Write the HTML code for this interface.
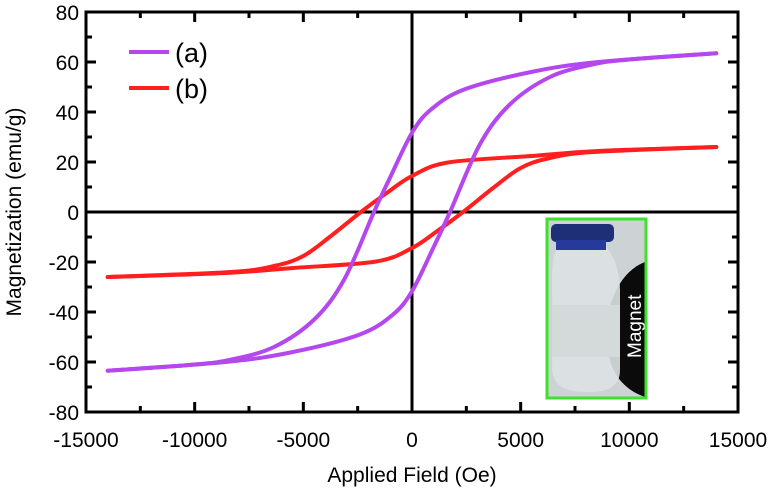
<!DOCTYPE html>
<html><head><meta charset="utf-8"><style>
html,body{margin:0;padding:0;background:#fff;}
svg{display:block;font-family:"Liberation Sans",Arial,sans-serif;}
</style></head><body>
<svg id="chart" width="776" height="493" viewBox="0 0 776 493">
<g id="plot"></g>
<text x="412" y="482" text-anchor="middle" font-size="21">Applied Field (Oe)</text>
<text transform="translate(21,212) rotate(-90)" text-anchor="middle" font-size="21">Magnetization (emu/g)</text>
</svg>
<script>
const fields = [-14000,-10000,-8300,-6350,-4500,-3120,-1750,-970,0,875,2400,5480,8570,14000];
const seriesAUpper = [-63.5,-61,-59,-54,-43,-27,0,14.5,31.7,41,49,56,60,63.5];
const fieldsB = [-14000,-8340,-6300,-5000,-3730,-2350,-1100,0,1650,5480,8570,14000];
const seriesBUpper = [-26,-24,-21.5,-17.6,-9.6,0,8,14.4,19.8,22.4,24.4,26];
const xTicks = [-15000,-10000,-5000,0,5000,10000,15000];
const yTicks = [-80,-60,-40,-20,0,20,40,60,80];

const X0=86,X1=738,Y0=412,Y1=12;
const xs=v=>X0+(v+15000)/30000*(X1-X0);
const ys=v=>Y0-(v+80)/160*(Y0-Y1);
const NS="http://www.w3.org/2000/svg";
const svg=document.getElementById('chart');
const g=document.getElementById('plot');
function mk(tag,attrs,parent){const e=document.createElementNS(NS,tag);for(const k in attrs)e.setAttribute(k,attrs[k]);(parent||g).appendChild(e);return e;}

function smoothPath(pts){
  let d=`M${pts[0][0]},${pts[0][1]}`;
  for(let i=0;i<pts.length-1;i++){
    const p0=pts[Math.max(0,i-1)],p1=pts[i],p2=pts[i+1],p3=pts[Math.min(pts.length-1,i+2)];
    const c1=[p1[0]+(p2[0]-p0[0])/6,p1[1]+(p2[1]-p0[1])/6];
    const c2=[p2[0]-(p3[0]-p1[0])/6,p2[1]-(p3[1]-p1[1])/6];
    d+=` C${c1[0]},${c1[1]} ${c2[0]},${c2[1]} ${p2[0]},${p2[1]}`;
  }
  return d;
}
function loop(F,M,color,name){
  const up=F.map((f,i)=>[xs(f),ys(M[i])]);
  const lo=F.map((f,i)=>[xs(-f),ys(-M[i])]);
  const p1=mk('path',{d:smoothPath(up),fill:'none',stroke:color,'stroke-width':4,'stroke-linecap':'round'});
  
  
  const p2=mk('path',{d:smoothPath(lo),fill:'none',stroke:color,'stroke-width':4,'stroke-linecap':'round'});
  
  
}

const zx=mk('line',{x1:X0,x2:X1,y1:ys(0),y2:ys(0),stroke:'#000','stroke-width':3});


const zy=mk('line',{x1:xs(0),x2:xs(0),y1:Y1,y2:Y0,stroke:'#000','stroke-width':3});



loop(fieldsB,seriesBUpper,'#ff1f1f','series-b');
loop(fields,seriesAUpper,'#b447ee','series-a');

const fr=mk('rect',{x:X0,y:Y1,width:X1-X0,height:Y0-Y1,fill:'none',stroke:'#000','stroke-width':3});



for(let v=-15000;v<=15000;v+=2500){
  const major=v%5000===0,L=major?10:6,x=xs(v);
  mk('line',{x1:x,x2:x,y1:Y0,y2:Y0-L,stroke:'#000','stroke-width':3});
  mk('line',{x1:x,x2:x,y1:Y1,y2:Y1+L,stroke:'#000','stroke-width':3});
}
xTicks.forEach(v=>{
  const t=mk('text',{x:xs(v),y:447,'text-anchor':'middle','font-size':21});
  t.textContent=String(v);
  
  
});
for(let v=-80;v<=80;v+=10){
  const major=v%20===0,L=major?10:6,y=ys(v);
  mk('line',{x1:X0,x2:X0+L,y1:y,y2:y,stroke:'#000','stroke-width':3});
  mk('line',{x1:X1,x2:X1-L,y1:y,y2:y,stroke:'#000','stroke-width':3});
}
yTicks.forEach(v=>{
  const t=mk('text',{x:79,y:ys(v)+8,'text-anchor':'end','font-size':21});
  t.textContent=String(v);
  
  
});
</script>
<script>
(function(){
const NS="http://www.w3.org/2000/svg";const svg=document.getElementById('chart');
function mk(tag,a){const e=document.createElementNS(NS,tag);for(const k in a)e.setAttribute(k,a[k]);svg.appendChild(e);return e;}
const items=[['(a)','#b447ee',52],['(b)','#ff1f1f',88]];
items.forEach(([lab,c,y],i)=>{
  const l=mk('line',{x1:129,x2:169,y1:y,y2:y,stroke:c,'stroke-width':4});
  
  
  const t=mk('text',{x:175,y:y+10,'font-size':27});
  t.textContent=lab;
  
  
});
const g=document.createElementNS(NS,'g');


svg.appendChild(g);
function a(tag,at){const e=document.createElementNS(NS,tag);for(const k in at)e.setAttribute(k,at[k]);g.appendChild(e);return e;}
a('rect',{x:547,y:219,width:99,height:179,fill:'#cdd2d4'});
a('path',{d:'M645,262 C610,275 600,330 610,360 C615,380 630,392 645,397 Z',fill:'#0b0b0b'});
a('path',{d:'M557,248 C550,260 552,290 553,320 L552,370 C555,390 570,392 590,392 C610,392 620,385 620,370 L620,290 C620,265 610,252 605,245 Z',fill:'#dde2e3',opacity:0.9});
a('rect',{x:552,y:305,width:68,height:52,fill:'#d4d9da'});
a('rect',{x:551,y:224,width:63,height:18,rx:5,fill:'#1e2f78'});
a('rect',{x:556,y:240,width:50,height:10,fill:'#27399a'});
const mt=a('text',{transform:'translate(641,358) rotate(-90)','font-size':19,fill:'#fff'});
mt.textContent='Magnet';
a('rect',{x:547,y:219,width:99,height:179,fill:'none',stroke:'#3de22c','stroke-width':3});
})();
</script>
</body></html>
